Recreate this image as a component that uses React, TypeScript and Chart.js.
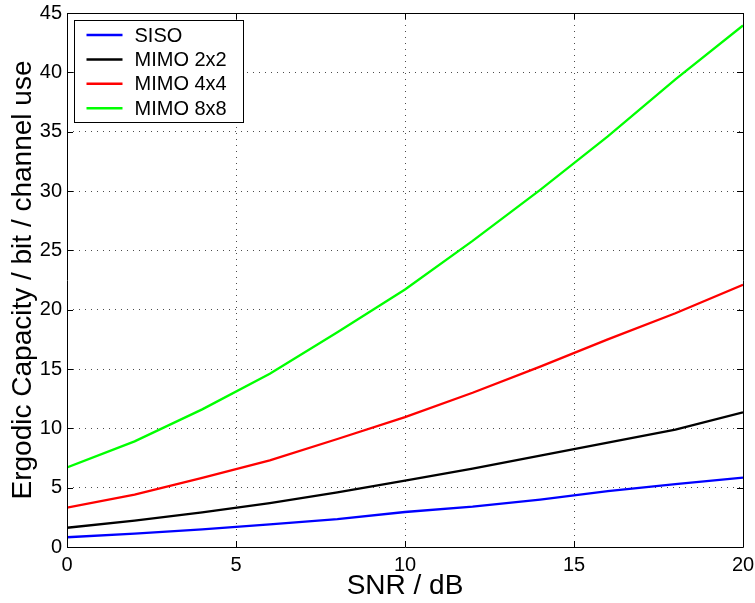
import React, { useEffect, useRef } from "react";
import { Chart, registerables } from "chart.js";

Chart.register(...registerables);

const snr = [0, 2, 4, 6, 8, 10, 12, 14, 16, 18, 20];
const siso = [0.82, 1.12, 1.48, 1.9, 2.35, 2.95, 3.4, 4.0, 4.7, 5.3, 5.85];
const mimo2x2 = [1.62, 2.22, 2.92, 3.7, 4.6, 5.6, 6.6, 7.7, 8.8, 9.9, 11.35];
const mimo4x4 = [3.32, 4.42, 5.82, 7.3, 9.1, 10.95, 13.0, 15.2, 17.5, 19.7, 22.1];
const mimo8x8 = [6.7, 8.9, 11.6, 14.6, 18.1, 21.7, 25.8, 30.1, 34.6, 39.4, 43.95];

const seriesLabels = ["SISO", "MIMO 2x2", "MIMO 4x4", "MIMO 8x8"];
const seriesColors = ["#0000ff", "#000000", "#ff0000", "#00ff00"];
const seriesValues = [siso, mimo2x2, mimo4x4, mimo8x8];

const xTitle = "SNR / dB";
const yTitle = "Ergodic Capacity / bit / channel use";
const FONT = "'Liberation Sans', Arial, Helvetica, sans-serif";

const frameAndLegend = {
  id: "frameAndLegend",
  afterDatasetsDraw(chart: any) {
    const { ctx, chartArea } = chart;
    const { left, right, top, bottom } = chartArea;
    const xs = chart.scales.x;
    const ys = chart.scales.y;
    ctx.save();
    ctx.strokeStyle = "#000";
    ctx.lineWidth = 1;
    ctx.setLineDash([]);
    ctx.beginPath();
    ctx.rect(Math.round(left) + 0.5, Math.round(top) + 0.5, Math.round(right - left), Math.round(bottom - top));
    ctx.stroke();
    const tl = 6;
    ctx.beginPath();
    xs.ticks.forEach((t: any) => {
      const px = Math.round(xs.getPixelForValue(t.value)) + 0.5;
      ctx.moveTo(px, bottom);
      ctx.lineTo(px, bottom - tl);
      ctx.moveTo(px, top);
      ctx.lineTo(px, top + tl);
    });
    ys.ticks.forEach((t: any) => {
      const py = Math.round(ys.getPixelForValue(t.value)) + 0.5;
      ctx.moveTo(left, py);
      ctx.lineTo(left + tl, py);
      ctx.moveTo(right, py);
      ctx.lineTo(right - tl, py);
    });
    ctx.stroke();

    // legend box
    const bx = left + 7.5;
    const by = top + 7.5;
    const bw = 169;
    const bh = 102;
    ctx.fillStyle = "#fff";
    ctx.fillRect(bx, by, bw, bh);
    ctx.strokeStyle = "#000";
    ctx.strokeRect(bx, by, bw, bh);
    ctx.font = `20px ${FONT}`;
    ctx.textBaseline = "middle";
    ctx.textAlign = "left";
    chart.data.datasets.forEach((ds: any, i: number) => {
      const cy = by + 14.5 + i * 24.4;
      ctx.strokeStyle = ds.borderColor;
      ctx.lineWidth = 2.5;
      ctx.beginPath();
      ctx.moveTo(bx + 12, cy);
      ctx.lineTo(bx + 48, cy);
      ctx.stroke();
      ctx.fillStyle = "#000";
      ctx.fillText(ds.label, bx + 60, cy + 1);
    });
    ctx.restore();
  },
};

export default function App() {
  const ref = useRef<HTMLCanvasElement>(null);
  useEffect(() => {
    document.body.style.margin = "0";
    const canvas = ref.current!;
    const chart = new Chart(canvas, {
      type: "line",
      data: {
        datasets: seriesValues.map((vals, i) => ({
          label: seriesLabels[i],
          data: snr.map((x, j) => ({ x, y: vals[j] })),
          borderColor: seriesColors[i],
          backgroundColor: seriesColors[i],
          borderWidth: 2.3,
          pointRadius: 0,
          tension: 0,
          fill: false,
        })),
      },
      options: {
        responsive: false,
        animation: false,
        layout: { padding: { top: 13, right: 12, left: 0, bottom: 0 } },
        plugins: { legend: { display: false }, tooltip: { enabled: false } },
        scales: {
          x: {
            type: "linear",
            min: 0,
            max: 20,
            afterFit: (s: any) => {
              s.height = 56;
              s.paddingLeft = 0;
              s.paddingRight = 0;
            },
            ticks: {
              stepSize: 5,
              padding: 6,
              color: "#000",
              font: { family: FONT, size: 20 },
              maxRotation: 0,
            },
            grid: {
              drawTicks: false,
              color: "rgba(0,0,0,0.7)",
              lineWidth: 1,
            },
            border: { display: false, dash: [1, 5] },
            title: {
              display: true,
              text: xTitle,
              color: "#000",
              font: { family: FONT, size: 28 },
              padding: { top: 0, bottom: 0 },
            },
          },
          y: {
            type: "linear",
            min: 0,
            max: 45,
            afterFit: (s: any) => {
              s.width = 67;
              s.paddingTop = 0;
              s.paddingBottom = 0;
            },
            ticks: {
              stepSize: 5,
              padding: 5,
              color: "#000",
              font: { family: FONT, size: 20 },
            },
            grid: {
              drawTicks: false,
              color: "rgba(0,0,0,0.7)",
              lineWidth: 1,
            },
            border: { display: false, dash: [1, 5] },
            title: {
              display: true,
              text: yTitle,
              color: "#000",
              font: { family: FONT, size: 28 },
              padding: { top: 6, bottom: 0 },
            },
          },
        },
      },
      plugins: [frameAndLegend],
    } as any);
    return () => chart.destroy();
  }, []);
  return (
    <div style={{ position: "absolute", left: 0, top: 0, width: 755, height: 603, background: "#fff" }}>
      <canvas ref={ref} width={755} height={603} style={{ display: "block" }} />
    </div>
  );
}
